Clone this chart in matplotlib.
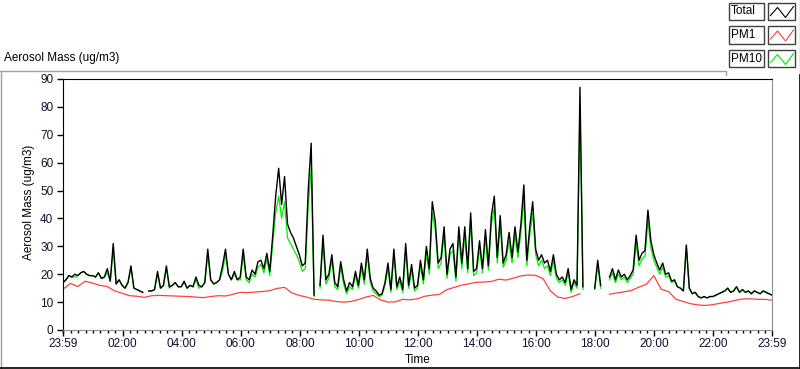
import numpy as np
import matplotlib.pyplot as plt
from matplotlib.lines import Line2D
from matplotlib.patches import Rectangle

plt.rcParams['font.family'] = ['Liberation Sans', 'DejaVu Sans']

W, H = 800, 369
nan = np.nan

# minutes after 23:59, one sample every 6 min
minutes_total = np.arange(0, 1441, 6)
total = [
    17, 18, 19.5, 19, 20, 19.5, 20.5, 21, 20, 19.5,
    19.5, 19, 20.5, 18.5, 19, 22, 17.5, 31, 16.5, 18,
    16, 15, 17, 23, 15, 14.5, 14, 13.5, nan, 14,
    14, 14.5, 21, 15, 16, 23, 15.5, 16, 17, 15.5,
    15.5, 17.5, 15, 16, 15.5, 19, 16, 15.5, 17, 29,
    18, 16.5, 17, 18, 23, 29, 20, 18, 21, 18,
    19, 29, 19, 18, 21.5, 20, 24.5, 25, 22, 27.5,
    21, 34, 48, 58, 45, 55, 38, 35, 33, 30,
    27, 23, 24, 50, 67, 12.5, nan, 16, 34, 18,
    20, 27, 17, 15.5, 24.5, 18, 14, 17, 15.5, 21,
    16, 24, 18, 29, 18.5, 15, 14, 12.5, 13, 17,
    24, 14.5, 29, 15.5, 19, 14.5, 31, 16, 23.5, 15,
    16, 25, 18, 30, 22, 46, 39, 24, 26, 37,
    20, 29, 31, 19, 37, 24, 37, 22, 42, 21,
    22, 32, 22, 36, 23, 41, 48, 26, 41, 24,
    27, 35, 26, 37, 28, 38, 52, 25, 37, 46,
    29, 25, 27, 24, 25, 21, 27, 20, 18, 19,
    17, 22, 14.5, 18, 16, 87, 15.5, nan, nan, nan,
    15, 25, 16, nan, nan, 19, 22, 18, 21.5, 19,
    20, 18, 19.5, 21.5, 34, 25, 27.5, 28.5, 43, 32,
    27, 24, 21.5, 24, 20, 20.5, 17.5, 18, 15.5, 15,
    14, 30.5, 15, 13, 13.5, 12, 11.5, 12, 11.5, 12,
    12, 12.5, 13, 13.5, 14, 15, 13.5, 14, 15.5, 13.5,
    14.5, 13.5, 14, 13, 14, 13.5, 13, 14, 13.5, 13, 12.5,
]
pm10 = [
    17, 18, 19.5, 19, 19, 19.5, 20.5, 21, 20, 19.5,
    19.5, 19, 20.5, 18.5, 19, 20.5, 17.5, 29, 16.5, 18,
    16, 15, 17, 22, 15, 14.5, 14, 13.5, nan, 14,
    14, 14.5, 20, 15, 16, 22, 15, 16, 17, 15.5,
    15.5, 17, 15, 16, 15.5, 18, 15, 15.5, 17, 27,
    18, 16.5, 17, 18, 21, 27, 20, 18, 20, 18,
    18, 27, 18, 17, 20, 19, 22.5, 23.5, 20.5, 25.5,
    19.5, 31, 42, 48, 40, 46, 33, 31, 29, 27,
    24.5, 21, 22, 44, 58, 12, nan, 15, 31, 16.5,
    18.5, 25, 15.5, 14.5, 22.5, 16.5, 13, 15.5, 14.5, 19.5,
    15, 22, 16.5, 27, 17, 14, 13, 12, 12.5, 16,
    22, 13.5, 27, 14.5, 17.5, 13.5, 28.5, 15, 21.5, 14,
    15, 23, 16.5, 27.5, 20, 42, 36, 22, 24, 34,
    18.5, 27, 28.5, 17.5, 34, 22, 34, 20.5, 39, 19.5,
    20.5, 29.5, 20.5, 33, 21.5, 38, 44, 24, 38, 22.5,
    25, 32, 24, 34, 26, 35, 47, 23, 34, 42,
    27, 23, 25, 22, 23, 19.5, 25, 18.5, 17, 18,
    16, 20.5, 13.5, 17, 15, 80, 14.5, nan, nan, nan,
    14.5, 23, 15, nan, nan, 18, 20.5, 17, 20, 18,
    19, 17, 18.5, 20, 31, 23, 25.5, 26.5, 39, 29.5,
    25, 22.5, 20, 22.5, 19, 19.5, 17, 17.5, 15.5, 15,
    14, 30, 15, 13, 13.5, 12, 11.5, 12, 11.5, 12,
    12, 12.5, 13, 13.5, 14, 15, 13.5, 14, 15.5, 13.5,
    14.5, 13.5, 14, 13, 14, 13.5, 13, 14, 13.5, 13, 12.5,
]

# PM1, one sample every 15 min
minutes_pm1 = np.arange(0, 1441, 15)
pm1 = [
    14.6, 16.7, 15.6, 17.5, 16.8, 16, 15.6, 14, 13.2, 12.3,
    12.1, 11.7, 12.3, 12.4, 12.3, 12.2, 12.1, 12, 11.8, 11.6,
    12, 12.3, 12.2, 12.8, 13.5, 13.4, 13.6, 13.8, 14.1, 14.9,
    15.3, 13.3, 12.4, 11.8, 11, 10.8, 10.7, 10.2, 10, 10.2,
    10.9, 11.8, 12.4, 10.8, 10, 10.1, 11, 10.8, 11.2, 12.1,
    12.5, 12.8, 14.5, 15.3, 16.1, 16.6, 17.1, 17.2, 17.4, 18.2,
    17.9, 18.6, 19.4, 19.7, 19.6, 18.4, 14, 11.8, 11.3, 12,
    13, nan, 14, nan, 12.8, 13.3, 13.7, 14.2, 15.4, 16.4,
    19.5, 14.6, 13.8, 11, 10.2, 9.4, 9, 8.8, 9.1, 9.6,
    10, 10.6, 11.1, 11.2, 11, 11, 10.7,
]

tick_minutes = [0, 121, 241, 361, 481, 601, 721, 841, 961, 1081, 1201, 1321, 1440]
tick_labels = ['23:59', '02:00', '04:00', '06:00', '08:00', '10:00', '12:00',
               '14:00', '16:00', '18:00', '20:00', '22:00', '23:59']
minor_minutes = np.arange(1, 1440, 15)

series_names = ['Total', 'PM1', 'PM10']
series_colors = ['black', '#ff4040', '#00ee00']


def fx(x):
    return x / W


def fy(y):
    return 1 - y / H


fig = plt.figure(figsize=(W / 100, H / 100), dpi=100)
ax = fig.add_axes([fx(63), fy(330), 709 / W, 251 / H])

ax.plot(minutes_total, pm10, color=series_colors[2], lw=0.9)
ax.plot(minutes_pm1, pm1, color=series_colors[1], lw=0.9)
ax.plot(minutes_total, total, color=series_colors[0], lw=1.0)

ax.set_xlim(0, 1440)
ax.set_ylim(0, 90)
ax.set_yticks(range(0, 91, 10))
ax.set_xticks(tick_minutes, tick_labels)
ax.set_xticks(minor_minutes, minor=True)
ax.tick_params(which='major', length=4, width=1, labelsize=8.5,
               labelcolor='#101030', color='black')
ax.tick_params(axis='x', which='major', pad=2)
ax.tick_params(axis='y', which='major', pad=3)
ax.tick_params(axis='x', which='minor', length=2.5, width=1, color='black')

ax.spines['left'].set_color('black')
ax.spines['top'].set_color('black')
ax.spines['right'].set_color('#909090')
ax.spines['bottom'].set_color('#909090')

ax.set_xlabel('Time', fontsize=8.5, va='center')
ax.xaxis.set_label_coords(0.5, (330 - 360) / 251)
ax.set_ylabel('Aerosol Mass (ug/m3)', fontsize=8.5, va='center')
ax.yaxis.set_label_coords((29 - 63) / 709, 0.51)

fig.text(fx(4), fy(58), 'Aerosol Mass (ug/m3)', fontsize=8.5, ha='left', va='center')

# panel frame
def pxline(xs, ys, color, lw=1.0):
    fig.add_artist(Line2D([fx(v) for v in xs], [fy(v) for v in ys],
                          color=color, lw=lw, transform=fig.transFigure))

pxline([0, 725], [70.5, 70.5], '#a0a0a0')
pxline([725.5, 725.5], [70.5, 75], '#a0a0a0')
pxline([0.5, 0.5], [70.5, 368], '#a0a0a0')
pxline([0, 800], [367.5, 367.5], 'black', 1.2)
pxline([799.5, 799.5], [0, 75], '#a0a0a0')
pxline([799.5, 799.5], [75, 368], 'black', 1.2)

# legend
zig = [(3, 13), (10, 5), (18, 15), (26, 4)]
for i, (name, col) in enumerate(zip(series_names, series_colors)):
    top = 2.5 + i * 23.5
    fig.add_artist(Rectangle((fx(728.5), fy(top + 17.5)), 35 / W, 17.5 / H,
                             transform=fig.transFigure, facecolor='white',
                             edgecolor='#404040', lw=1))
    fig.add_artist(Rectangle((fx(767.5), fy(top + 17.5)), 27.5 / W, 17.5 / H,
                             transform=fig.transFigure, facecolor='white',
                             edgecolor='#404040', lw=1))
    fig.text(fx(731), fy(top + 9), name, fontsize=8.5, ha='left', va='center')
    pxline([767.5 + p[0] for p in zig], [top + p[1] for p in zig], col, 0.8)

fig.savefig('out.png', dpi=100)
